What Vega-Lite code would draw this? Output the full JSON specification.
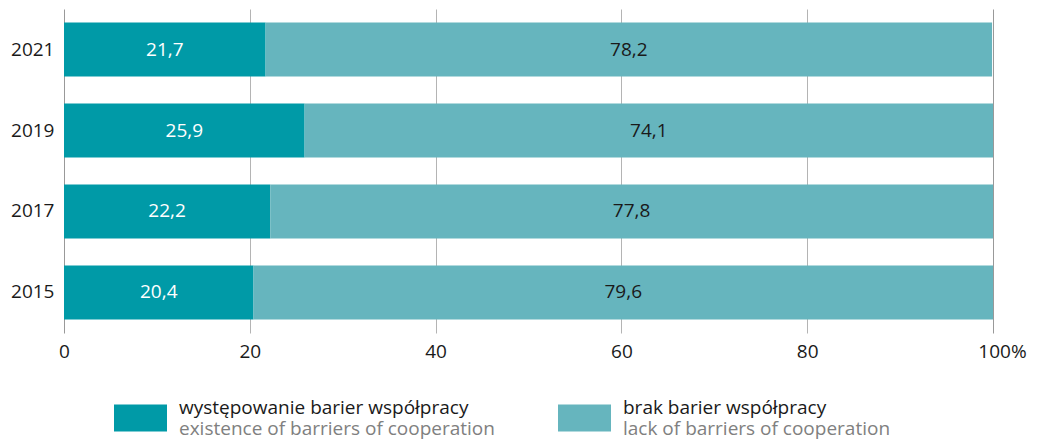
{
  "$schema": "https://vega.github.io/schema/vega-lite/v6.json",
  "width": 929,
  "height": 324,
  "autosize": {"type": "none"},
  "padding": {"left": 64, "top": 9, "right": 44, "bottom": 107},
  "background": "white",
  "config": {
    "view": {"stroke": null},
    "font": "Open Sans",
    "locale": {"number": {"decimal": ",", "thousands": " ", "grouping": [3], "currency": ["", " zł"]}}
  },
  "data": {
    "values": [
      {"year": "2021", "series": "występowanie barier współpracy", "en": "existence of barriers of cooperation", "idx": 1, "value": 21.7},
      {"year": "2021", "series": "brak barier współpracy", "en": "lack of barriers of cooperation", "idx": 2, "value": 78.2},
      {"year": "2019", "series": "występowanie barier współpracy", "en": "existence of barriers of cooperation", "idx": 1, "value": 25.9},
      {"year": "2019", "series": "brak barier współpracy", "en": "lack of barriers of cooperation", "idx": 2, "value": 74.1},
      {"year": "2017", "series": "występowanie barier współpracy", "en": "existence of barriers of cooperation", "idx": 1, "value": 22.2},
      {"year": "2017", "series": "brak barier współpracy", "en": "lack of barriers of cooperation", "idx": 2, "value": 77.8},
      {"year": "2015", "series": "występowanie barier współpracy", "en": "existence of barriers of cooperation", "idx": 1, "value": 20.4},
      {"year": "2015", "series": "brak barier współpracy", "en": "lack of barriers of cooperation", "idx": 2, "value": 79.6}
    ]
  },
  "encoding": {
    "y": {
      "field": "year",
      "type": "nominal",
      "sort": "descending",
      "scale": {"paddingInner": 0.3333, "paddingOuter": 0.1667},
      "axis": {"title": null, "domain": false, "ticks": false, "grid": false, "labelFontSize": 19, "labelColor": "#1a1a1a", "labelPadding": 10}
    },
    "x": {
      "field": "value",
      "type": "quantitative",
      "stack": "zero",
      "scale": {"domain": [0, 100], "nice": false},
      "axis": {
        "title": null,
        "domain": false,
        "ticks": false,
        "grid": true,
        "gridColor": {"condition": {"test": "datum.value == 0 || datum.value == 100", "value": "#999999"}, "value": "#b4b4b4"},
        "gridWidth": 1,
        "values": [0, 20, 40, 60, 80, 100],
        "labelExpr": "datum.value == 100 ? '100%' : datum.label",
        "labelFontSize": 19,
        "labelColor": "#1a1a1a",
        "labelPadding": 9,
        "labelFlush": false,
        "labelBound": false,
        "labelOffset": {"condition": {"test": "datum.value == 100", "value": 9}, "value": 0}
      }
    },
    "order": {"field": "idx", "type": "quantitative"}
  },
  "layer": [
    {
      "mark": {"type": "bar"},
      "encoding": {
        "color": {
          "field": "series",
          "type": "nominal",
          "scale": {"domain": ["występowanie barier współpracy", "brak barier współpracy"], "range": ["#009aa7", "#66b5be"]},
          "legend": {
            "orient": "none",
            "legendX": 50,
            "legendY": 382,
            "direction": "horizontal",
            "columns": 2,
            "title": null,
            "padding": 0,
            "symbolType": "M-1,-0.51H1V0.51H-1Z",
            "symbolSize": 2809,
            "symbolStrokeWidth": 0,
            "labelFontSize": 19,
            "labelColor": "#1a1a1a",
            "labelBaseline": "bottom",
            "labelOffset": 12,
            "labelLimit": 500,
            "columnPadding": 89
          }
        }
      }
    },
    {
      "mark": {"type": "text", "fontSize": 19},
      "encoding": {
        "x": {"field": "value", "type": "quantitative", "stack": "zero", "bandPosition": 0.5},
        "detail": {"field": "series"},
        "text": {"field": "value", "type": "quantitative", "format": ".1f"},
        "color": {"condition": {"test": "datum.idx == 1", "value": "white"}, "value": "#1a1a1a"}
      }
    },
    {
      "mark": {"type": "point", "opacity": 0},
      "encoding": {
        "shape": {
          "field": "en",
          "type": "nominal",
          "scale": {"domain": ["existence of barriers of cooperation", "lack of barriers of cooperation"], "range": ["M-1,-0.51H1V0.51H-1Z", "M-1,-0.51H1V0.51H-1Z"]},
          "legend": {
            "orient": "none",
            "legendX": 50,
            "legendY": 384,
            "direction": "horizontal",
            "columns": 2,
            "title": null,
            "padding": 0,
            "symbolSize": 2809,
            "symbolOpacity": 0,
            "symbolStrokeWidth": 0,
            "labelFontSize": 19,
            "labelColor": "#808080",
            "labelBaseline": "top",
            "labelOffset": 12,
            "labelLimit": 500,
            "columnPadding": 63
          }
        }
      }
    }
  ]
}
